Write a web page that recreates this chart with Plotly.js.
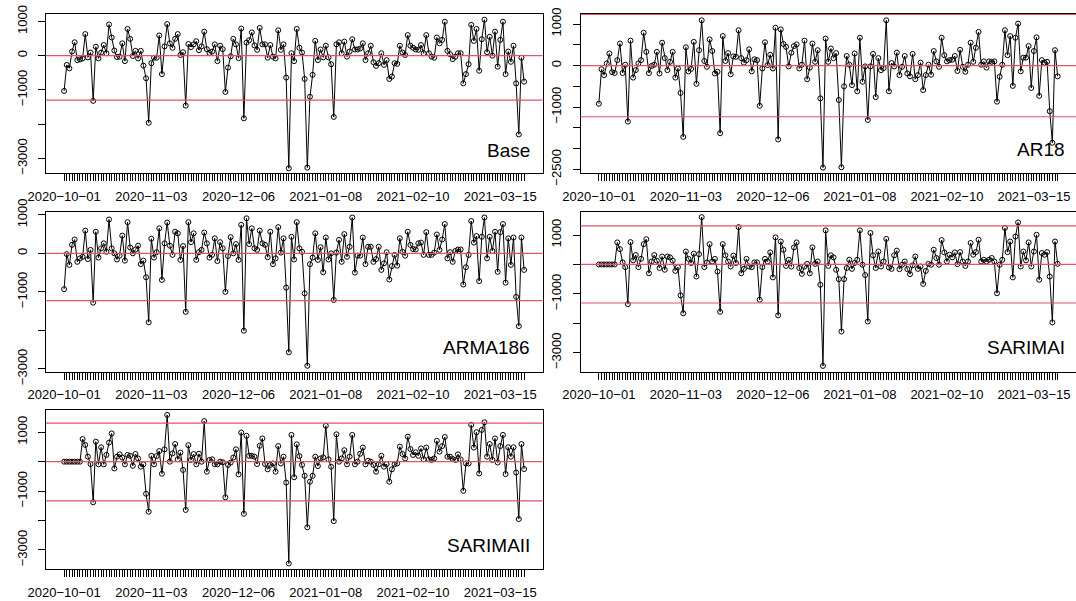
<!DOCTYPE html>
<html>
<head>
<meta charset="utf-8">
<script src="https://cdn.plot.ly/plotly-3.0.1.min.js"></script>
<style>
  html, body { margin: 0; padding: 0; background: #fff; }
  #chart { width: 1076px; height: 601px; }
</style>
</head>
<body>
<div id="chart"></div>
<script>
// ---------- data (residuals, daily from 2020-10-01) ----------
const startDate = '2020-10-01';
const nDays = 175;

const base = [-1030,-270,-370,120,390,-130,-110,-80,630,-50,
  90,-1320,260,-80,90,310,70,910,530,150,
  -40,-30,360,-160,780,490,-10,140,-80,140,
  -290,-660,-1960,-220,-60,-60,590,-540,270,920,
  360,230,490,630,20,100,-1460,340,250,330,
  420,160,270,700,190,80,120,330,-160,290,
  190,-1060,-350,-20,490,330,-70,790,-1830,380,
  450,680,300,170,810,330,330,-60,310,-30,
  -80,740,170,330,-640,-3290,70,-160,780,230,
  90,-680,-3270,-1200,-560,430,-130,180,-50,290,
  -50,-250,-1790,330,390,70,410,-30,120,480,
  180,180,210,360,-130,70,290,-190,-300,-220,
  70,-270,-130,-680,-610,-220,-240,290,90,20,
  600,290,230,180,170,310,70,600,70,-30,
  -60,530,360,460,990,140,40,-100,-30,70,
  70,-810,-540,-250,900,430,780,-440,480,1050,
  100,550,0,700,-320,460,990,-540,120,-180,
  290,-810,-2300,-60,-760];

const ar18 = [-920,-90,-230,50,290,-160,-180,130,530,-180,
  20,-1350,600,-290,-110,50,130,790,330,-180,
  -10,20,330,-190,550,180,-110,90,330,-290,
  -70,-660,-1720,440,-140,-80,570,-440,370,1090,
  110,-30,630,350,-190,-150,-1630,710,110,300,
  -210,220,210,850,180,70,130,390,-140,150,
  130,-970,-70,560,10,260,-70,910,-1780,870,
  520,450,-20,310,470,510,-70,20,600,-330,
  -50,530,90,370,-790,-2460,650,90,410,180,
  300,-830,-2450,-500,230,20,-470,290,-620,670,
  -390,-20,-1310,-20,280,-760,180,-110,-60,1090,
  -620,60,-20,310,-230,-30,230,-190,-260,280,
  -330,-230,70,-590,-230,20,-220,350,100,-30,
  670,250,100,130,140,230,-130,380,-30,-150,
  20,550,90,430,810,20,100,-50,100,90,
  100,-870,-270,20,850,250,710,-490,670,1010,
  -140,190,190,470,-540,350,680,-730,130,70,
  90,-1100,-1860,370,-260];

const arma186 = [-930,-20,-300,220,360,-220,-130,-90,590,-150,
  90,-1280,560,-110,130,260,40,880,130,0,
  -160,-60,460,-190,810,150,0,100,200,-280,
  -190,-620,-1790,380,-110,30,650,-690,260,800,
  200,-40,560,520,-170,190,-1520,810,290,520,
  -170,30,90,540,260,-110,-40,390,-200,290,
  130,-1000,-70,420,0,240,-170,740,-2010,910,
  240,650,130,90,590,260,220,-100,560,-280,
  -130,680,20,390,-890,-2570,430,-160,810,130,
  40,-1040,-2920,-280,-110,520,-170,160,-490,410,
  -160,0,-1210,20,350,-220,500,-90,170,930,
  -500,-60,-60,410,-280,170,170,-220,-150,170,
  -430,-260,30,-680,-330,-40,-320,390,40,-60,
  560,220,110,100,260,280,-40,550,-40,-40,
  20,490,90,360,760,-130,30,-220,60,100,
  100,-810,-360,-40,840,280,450,-720,430,930,
  -130,430,60,560,-480,550,760,-760,390,-300,
  410,-1130,-1890,410,-430];

const sarimaI = [0,0,0,0,0,0,0,750,520,70,
  -90,-1350,760,140,320,-90,190,690,860,-300,
  100,320,130,-120,270,-180,270,240,130,-220,
  -90,-1050,-1660,440,190,50,370,-410,350,1610,
  -90,70,690,100,190,-240,-1610,690,310,100,
  -70,300,50,1270,-300,-150,190,-70,-90,70,
  70,-1200,-90,190,100,410,-440,920,-1730,780,
  500,-50,160,-70,580,750,-120,-320,-70,20,
  -300,580,20,100,-690,-3450,1160,-50,310,240,
  -180,-500,-2280,-500,-120,160,-150,50,160,1160,
  -10,-360,-1940,1070,310,-120,440,-70,100,870,
  -100,-150,310,470,-160,-10,100,-160,-330,-30,
  270,-150,-70,-660,-220,20,-10,500,220,-10,
  830,410,100,330,240,410,10,420,100,-50,
  100,730,330,420,840,100,160,100,160,220,
  100,-980,-10,160,1240,420,780,-440,950,1430,
  -70,440,140,750,-70,440,1010,-520,390,330,
  420,-410,-1970,780,20];

const sarimaII = [0,0,0,0,0,0,0,770,570,170,
  -80,-1380,680,-90,490,-90,230,650,960,-230,
  170,250,140,-90,230,200,-140,260,110,-170,
  -90,-1090,-1700,200,-90,190,360,-410,420,1590,
  0,280,600,80,310,-280,-1640,560,60,260,
  -90,270,0,1380,-340,60,80,-90,-90,0,
  -20,-1210,-110,-30,140,420,-430,990,-1770,880,
  200,200,170,-80,540,790,-80,-260,-110,-60,
  -340,530,-60,170,-710,-3460,910,-530,590,190,
  -110,-480,-2230,-680,-480,170,-150,110,150,1220,
  80,-170,-2020,930,0,110,390,-90,170,910,
  -90,0,270,480,-90,30,0,-110,-340,-90,
  200,-170,-80,-680,-260,-90,-60,510,260,110,
  850,430,230,320,200,450,80,480,80,60,
  110,710,340,530,840,170,170,90,60,250,
  80,-990,-60,-60,1250,480,1000,-400,1080,1340,
  170,600,60,790,-30,530,910,-420,490,170,
  490,-370,-1950,600,-250];

const panelNames = ['Base', 'AR18', 'ARMA186', 'SARIMAI', 'SARIMAII'];
const seriesList = [base, ar18, arma186, sarimaI, sarimaII];
// control limits (red horizontal lines)
const limitsBase = [0, -1297, 1297];
const limitsAR18 = [0, -1234, 1234];
const limitsARMA186 = [0, -1230, 1230];
const limitsSARIMAI = [0, -1310, 1315];
const limitsSARIMAII = [0, -1330, 1310];
const limitsList = [limitsBase, limitsAR18, limitsARMA186, limitsSARIMAI, limitsSARIMAII];
// y tick values and labels
const yTicksList = [
  [[1000, 0, -1000, -2000, -3000], ['1000', '0', '\u22121000', '', '\u22123000']],
  [[1000, 500, 0, -500, -1000, -1500, -2000, -2500], ['1000', '', '0', '', '\u22121000', '', '', '\u22122500']],
  [[1000, 0, -1000, -2000, -3000], ['1000', '0', '\u22121000', '', '\u22123000']],
  [[1000, 0, -1000, -2000, -3000], ['1000', '', '\u22121000', '', '\u22123000']],
  [[1000, 0, -1000, -2000, -3000], ['1000', '', '\u22121000', '', '\u22123000']]
];
const yRanges = [[-3435, 1216], [-2596, 1242], [-3074, 1074], [-3647, 1784], [-3648, 1767]];

// ---------- helpers ----------
const W = 1076, H = 601;
const DAY = 86400000;
const t0 = Date.parse(startDate + 'T00:00:00Z');
function fmt(ms) {
  return new Date(ms).toISOString().slice(0, 19).replace('T', ' ');
}
const dates = [];
for (let i = 0; i < nDays; i++) dates.push(new Date(t0 + i * DAY).toISOString().slice(0, 10));
const tickText = dates.map((d, i) => (i % 33 === 0 ? d.replace(/-/g, '\u2212') : ''));
const pad = (nDays - 1) * 0.04;
const xRange = [fmt(t0 - pad * DAY), fmt(t0 + (nDays - 1 + pad) * DAY)];

// panel boxes in pixels [left, right, top, bottom]
const boxes = [
  [45.7, 542.5, 14, 173.3],
  [580.5, 1076, 14, 173.3],
  [45.7, 542.5, 212, 371.7],
  [580.5, 1076, 212, 371.7],
  [45.7, 542.5, 409.7, 569]
];
const labelPos = [[532, 150], [1067, 149.5], [532, 347.5], [1067, 347.5], [532, 545.5]];

const font = 'Liberation Sans, Arial, Helvetica, sans-serif';
const traces = [];
const layout = {
  width: W, height: H,
  margin: {l: 0, r: 0, t: 0, b: 0},
  paper_bgcolor: '#fff', plot_bgcolor: '#fff',
  showlegend: false,
  font: {family: font, color: '#000', size: 13},
  shapes: [], annotations: []
};

seriesList.forEach((vals, k) => {
  const n = k + 1;
  const xa = 'x' + (n === 1 ? '' : n), ya = 'y' + (n === 1 ? '' : n);
  traces.push({
    x: dates, y: vals, type: 'scatter', mode: 'lines+markers',
    xaxis: xa, yaxis: ya,
    line: {color: '#000', width: 1},
    marker: {symbol: 'circle-open', size: 5, color: '#000', line: {width: 1, color: '#000'}},
    hoverinfo: 'skip'
  });
  const b = boxes[k];
  layout['xaxis' + (n === 1 ? '' : n)] = {
    domain: [b[0] / W, Math.min(1, b[1] / W)],
    anchor: ya, type: 'date', range: xRange,
    tickmode: 'array', tickvals: dates, ticktext: tickText,
    ticks: 'outside', ticklen: 7, tickwidth: 1, tickcolor: '#000',
    showline: true, mirror: true, linecolor: '#000', linewidth: 1,
    showgrid: false, zeroline: false,
    tickfont: {family: font, size: 13, color: '#000'},
    ticklabelstandoff: 4, tickangle: 0
  };
  layout['yaxis' + (n === 1 ? '' : n)] = {
    domain: [1 - b[3] / H, 1 - b[2] / H],
    anchor: xa, range: yRanges[k],
    tickmode: 'array', tickvals: yTicksList[k][0], ticktext: yTicksList[k][1],
    ticks: 'outside', ticklen: 7, tickwidth: 1, tickcolor: '#000',
    showline: true, mirror: true, linecolor: '#000', linewidth: 1,
    showgrid: false, zeroline: false, tickangle: -90,
    tickfont: {family: font, size: 13, color: '#000'},
    ticklabelstandoff: 6
  };
  limitsList[k].forEach(v => {
    if (v > yRanges[k][0] && v < yRanges[k][1]) {
      layout.shapes.push({
        type: 'line', xref: xa + ' domain', yref: ya,
        x0: 0, x1: 1, y0: v, y1: v,
        line: {color: '#DF536B', width: 1.2}
      });
    }
  });
  layout.annotations.push({
    text: panelNames[k], showarrow: false,
    xref: 'paper', yref: 'paper',
    x: labelPos[k][0] / W, y: 1 - labelPos[k][1] / H,
    xanchor: 'right', yanchor: 'middle',
    font: {family: font, size: 19, color: '#000'}
  });
});

Plotly.newPlot('chart', traces, layout, {staticPlot: true, displayModeBar: false});
</script>
</body>
</html>
